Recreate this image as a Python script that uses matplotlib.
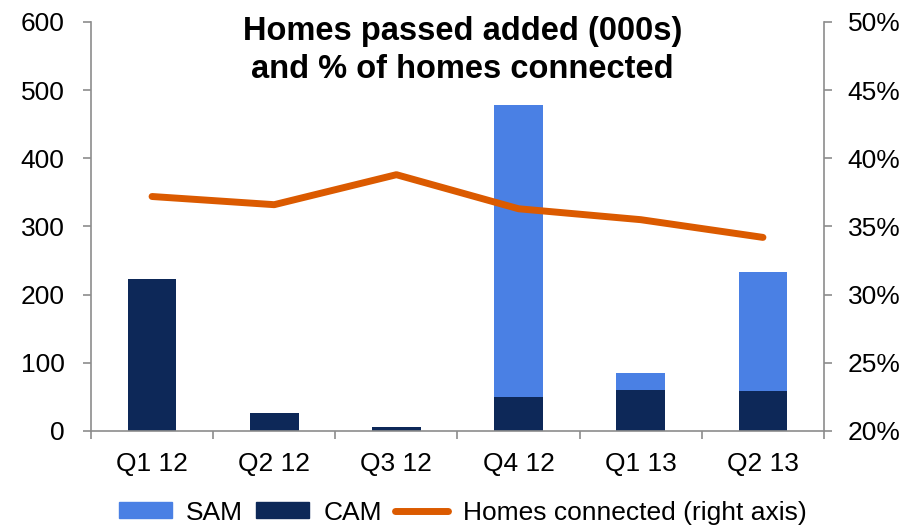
import matplotlib
matplotlib.use("Agg")
import matplotlib.pyplot as plt
import numpy as np
from matplotlib.lines import Line2D
from matplotlib.patches import Patch

plt.rcParams['font.family'] = ['Liberation Sans', 'DejaVu Sans']

categories = ["Q1 12", "Q2 12", "Q3 12", "Q4 12", "Q1 13", "Q2 13"]
cam = [223, 26, 6, 50, 60, 59]
sam = [0, 0, 0, 428, 25, 174]
connected_pct = [37.2, 36.6, 38.8, 36.3, 35.5, 34.2]
left_ticks = [0, 100, 200, 300, 400, 500, 600]
right_ticks = [20, 25, 30, 35, 40, 45, 50]

SAM_C = "#4A80E4"
CAM_C = "#0D2858"
LINE_C = "#DB5A00"
GRID_C = "#8C8C8C"

fig = plt.figure(figsize=(9.16, 5.30), dpi=100)
ax = fig.add_axes([0.0993, 0.1868, 0.8003, 0.7717])
x = np.arange(len(categories))
ax.bar(x, cam, width=0.4, color=CAM_C, zorder=2)
ax.bar(x, sam, width=0.4, bottom=cam, color=SAM_C, zorder=2)
ax.set_xlim(-0.5, len(categories) - 0.5)
ax.set_ylim(0, 600)
ax.set_yticks(left_ticks)
ax.set_yticklabels([str(v) for v in left_ticks])
ax.set_xticks(x)
ax.set_xticklabels(categories)
ax.set_xticks(np.arange(-0.5, len(categories)), minor=True)
ax.tick_params(axis='x', which='major', length=0, pad=15, labelsize=19)
ax.tick_params(axis='x', which='minor', length=6, color=GRID_C, width=1.2)
ax.tick_params(axis='y', length=6, color=GRID_C, width=1.2, labelsize=19, pad=13)
for s in ['top', 'right']:
    ax.spines[s].set_visible(False)
for s in ['left', 'bottom']:
    ax.spines[s].set_color(GRID_C)
    ax.spines[s].set_linewidth(1.2)

ax2 = ax.twinx()
ax2.plot(x, connected_pct, color=LINE_C, lw=5, solid_capstyle='round', zorder=3)
ax2.set_ylim(20, 50)
ax2.set_yticks(right_ticks)
ax2.set_yticklabels([f"{v}%" for v in right_ticks])
ax2.tick_params(axis='y', length=6, color=GRID_C, width=1.2, labelsize=19, pad=11)
for s in ['top', 'left', 'bottom']:
    ax2.spines[s].set_visible(False)
ax2.spines['right'].set_color(GRID_C)
ax2.spines['right'].set_linewidth(1.2)

fig.text(0.505, 0.905, "Homes passed added (000s)\nand % of homes connected",
         ha='center', va='center', fontsize=23.5, fontweight='bold', linespacing=1.3)

handles = [Patch(color=SAM_C), Patch(color=CAM_C),
           Line2D([0], [0], color=LINE_C, lw=5, solid_capstyle='round')]
labels = ["SAM", "CAM", "Homes connected (right axis)"]
fig.legend(handles, labels, loc='center', bbox_to_anchor=(0.505, 0.033), ncol=3,
           frameon=False, fontsize=19, handlelength=2.0, handleheight=0.55,
           handletextpad=0.55, columnspacing=0.5, borderpad=0)

fig.savefig("out.png", dpi=100)
